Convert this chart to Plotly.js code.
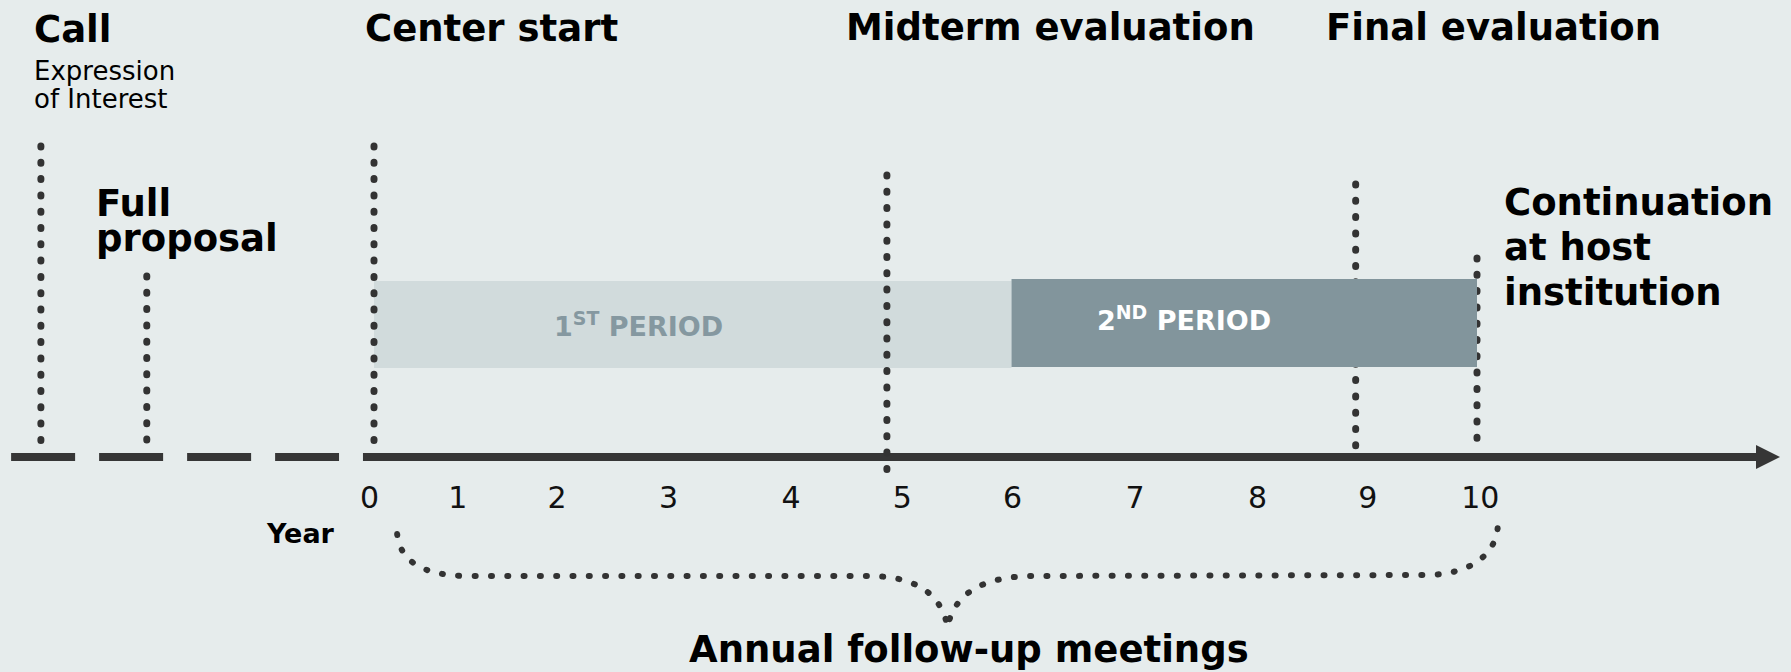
<!DOCTYPE html>
<html>
<head>
<meta charset="utf-8">
<script src="https://cdn.plot.ly/plotly-3.0.1.min.js"></script>
<style>
  html, body { margin: 0; padding: 0; background: #e6ecec; }
  #chart { width: 1791px; height: 672px; }
</style>
</head>
<body>
<div id="chart"></div>
<script>
// ---------------- data ----------------
const yearLabels   = ['0', '1', '2', '3', '4', '5', '6', '7', '8', '9', '10'];
const yearTickPos  = [-0.04, 0.76, 1.66, 2.67, 3.78, 4.79, 5.79, 6.90, 8.01, 9.01, 10.03];
const eventNames   = ['Call', 'Full<br>proposal', 'Center start', 'Midterm evaluation',
                      'Final evaluation', 'Continuation<br>at host<br>institution'];
const eventNotes   = ['Expression<br>of Interest', '', '', '', '', ''];
const eventYear    = [-3.02, -2.06, 0, 4.65, 8.90, 10.0];
const periodNames  = ['1<sup>ST</sup> PERIOD', '2<sup>ND</sup> PERIOD'];
const periodStart  = [0, 5.78];
const periodEnd    = [5.78, 10.0];
const meetingLabel = 'Annual follow-up meetings';
const meetingSpan  = [0.21, 10.19];
const axisTitle    = 'Year';
const leadIn       = [-3.29, -0.317];   // dashed part of the timeline (before year 0)
const timelineEnd  = 12.747;            // arrow tip

// ---------------- style / layout constants ----------------
const W = 1791, H = 672;
const PX_PER_YEAR = 110.3;
const X_RANGE = [-374 / PX_PER_YEAR, (W - 374) / PX_PER_YEAR];
const BG = '#e6ecec', INK = '#333333', AXIS = '#363636', TXT = '#000000';
const FONT = 'DejaVu Sans';
const AXIS_Y = 457;
const DOTS = '1px,15.3px';
const lineTop    = [146, 276, 146, 175, 184, 258];
const lineBottom = [441, 441, 441, 470, 449, 442];
const labelDx    = [-9, -53, -11, -43, -32, 25];
const labelBase  = [42, 216, 41, 40, 40, 215];
const labelGap   = [0, 35, 0, 0, 0, 45];
const TITLE_SIZE = 37;
const periodFill  = ['#d1dbdc', '#82959c'];
const periodText  = ['#8598a0', '#ffffff'];
const periodTop   = [281, 279];
const periodBot   = [368, 367];
const periodShift = [-54, -60];
const periodBase  = [336, 330];
const PERIOD_SIZE = 27;
const px = v => v / PX_PER_YEAR;          // pixel offset -> axis units
const centerOf = (baseline, size) => baseline - 0.346 * size;

// ---------------- traces ----------------
const traces = [];
function periodTrace(i) {
  const s = periodStart[i], e = periodEnd[i];
  return {
    type: 'scatter', mode: 'lines', hoverinfo: 'skip',
    x: [s, e, e, s, s],
    y: [periodTop[i], periodTop[i], periodBot[i], periodBot[i], periodTop[i]],
    fill: 'toself', fillcolor: periodFill[i], line: { width: 0, color: periodFill[i] }
  };
}
traces.push(periodTrace(0));

// timeline
traces.push({
  type: 'scatter', mode: 'lines', hoverinfo: 'skip',
  x: leadIn, y: [AXIS_Y, AXIS_Y],
  line: { color: AXIS, width: 8, dash: '64px,24px' }
});
traces.push({
  type: 'scatter', mode: 'lines', hoverinfo: 'skip',
  x: [-0.1, timelineEnd - px(20)], y: [AXIS_Y, AXIS_Y],
  line: { color: AXIS, width: 8 }
});
traces.push({
  type: 'scatter', mode: 'markers', hoverinfo: 'skip',
  x: [timelineEnd], y: [AXIS_Y],
  marker: { symbol: 'arrow-right', size: 24, color: AXIS, line: { width: 0 } }
});

// event lines
eventYear.forEach((ex, i) => {
  traces.push({
    type: 'scatter', mode: 'lines', hoverinfo: 'skip',
    x: [ex, ex], y: [lineTop[i], lineBottom[i]],
    line: { color: INK, width: 7, dash: DOTS }
  });
});
traces.push(periodTrace(1));

// ---------------- brace ----------------
function bracePath(x0, x1) {
  const m = (x0 + x1) / 2;
  const P = (x, y) => x.toFixed(4) + ',' + y;
  return 'M' + P(x0, 534) +
    ' C' + P(x0 + px(3), 560) + ' ' + P(x0 + px(23), 576) + ' ' + P(x0 + px(73), 576) +
    ' L' + P(m - px(79), 576) +
    ' C' + P(m - px(37), 576) + ' ' + P(m - px(7), 590) + ' ' + P(m, 627) +
    ' C' + P(m + px(7), 592) + ' ' + P(m + px(37), 577) + ' ' + P(m + px(83), 576) +
    ' L' + P(x1 - px(73), 575) +
    ' C' + P(x1 - px(28), 575) + ' ' + P(x1 - px(1), 555) + ' ' + P(x1, 524);
}
const shapes = [{
  type: 'path', xref: 'x', yref: 'y', layer: 'above',
  path: bracePath(meetingSpan[0], meetingSpan[1]),
  line: { color: INK, width: 6, dash: '1px,15.3px' }
}];

// ---------------- annotations ----------------
const annotations = [];
function addText(text, x, xshift, y, size, weight, color, xanchor) {
  annotations.push({
    text: text, x: x, y: y, xref: 'x', yref: 'y', xshift: xshift,
    xanchor: xanchor || 'left', yanchor: 'middle', showarrow: false,
    font: { family: FONT, size: size, weight: weight, color: color }
  });
}
eventNames.forEach((name, i) => {
  name.split('<br>').forEach((ln, k) => {
    addText(ln, eventYear[i], labelDx[i], centerOf(labelBase[i] + k * labelGap[i], TITLE_SIZE),
            TITLE_SIZE, 'bold', TXT);
  });
  if (eventNotes[i]) {
    eventNotes[i].split('<br>').forEach((ln, k) => {
      addText(ln, eventYear[i], labelDx[i] + 0, centerOf(80 + k * 28, 26), 26, 'normal', TXT);
    });
  }
});
periodNames.forEach((name, i) => {
  addText(name, (periodStart[i] + periodEnd[i]) / 2, periodShift[i],
          centerOf(periodBase[i], PERIOD_SIZE) - 2, PERIOD_SIZE, 'bold', periodText[i], 'center');
});
addText(axisTitle, yearTickPos[0], -33, centerOf(543, 27), 27, 'bold', TXT, 'right');
addText(meetingLabel, (meetingSpan[0] + meetingSpan[1]) / 2, 21, centerOf(662, TITLE_SIZE),
        TITLE_SIZE, 'bold', TXT, 'center');

// ---------------- layout ----------------
const layout = {
  width: W, height: H,
  margin: { l: 0, r: 0, t: 0, b: 0, pad: 0 },
  paper_bgcolor: BG, plot_bgcolor: BG,
  showlegend: false, hovermode: false,
  xaxis: {
    range: X_RANGE, showgrid: false, zeroline: false, showline: false, ticks: '',
    tickmode: 'array', tickvals: yearTickPos, ticktext: yearLabels,
    tickfont: { family: FONT, size: 30, color: '#111111' },
    anchor: 'free', position: 1 - AXIS_Y / H, ticklabelstandoff: 20
  },
  yaxis: { range: [H, 0], visible: false, showgrid: false, zeroline: false },
  shapes: shapes,
  annotations: annotations
};

Plotly.newPlot('chart', traces, layout, { staticPlot: true, displayModeBar: false })
  .then(gd => {
    gd.querySelectorAll('path').forEach(p => {
      const d = (p.style.strokeDasharray || '').replace(/\s/g, '');
      if (d.indexOf('1px,15') === 0) p.style.strokeLinecap = 'round';
    });
  });
</script>
</body>
</html>
